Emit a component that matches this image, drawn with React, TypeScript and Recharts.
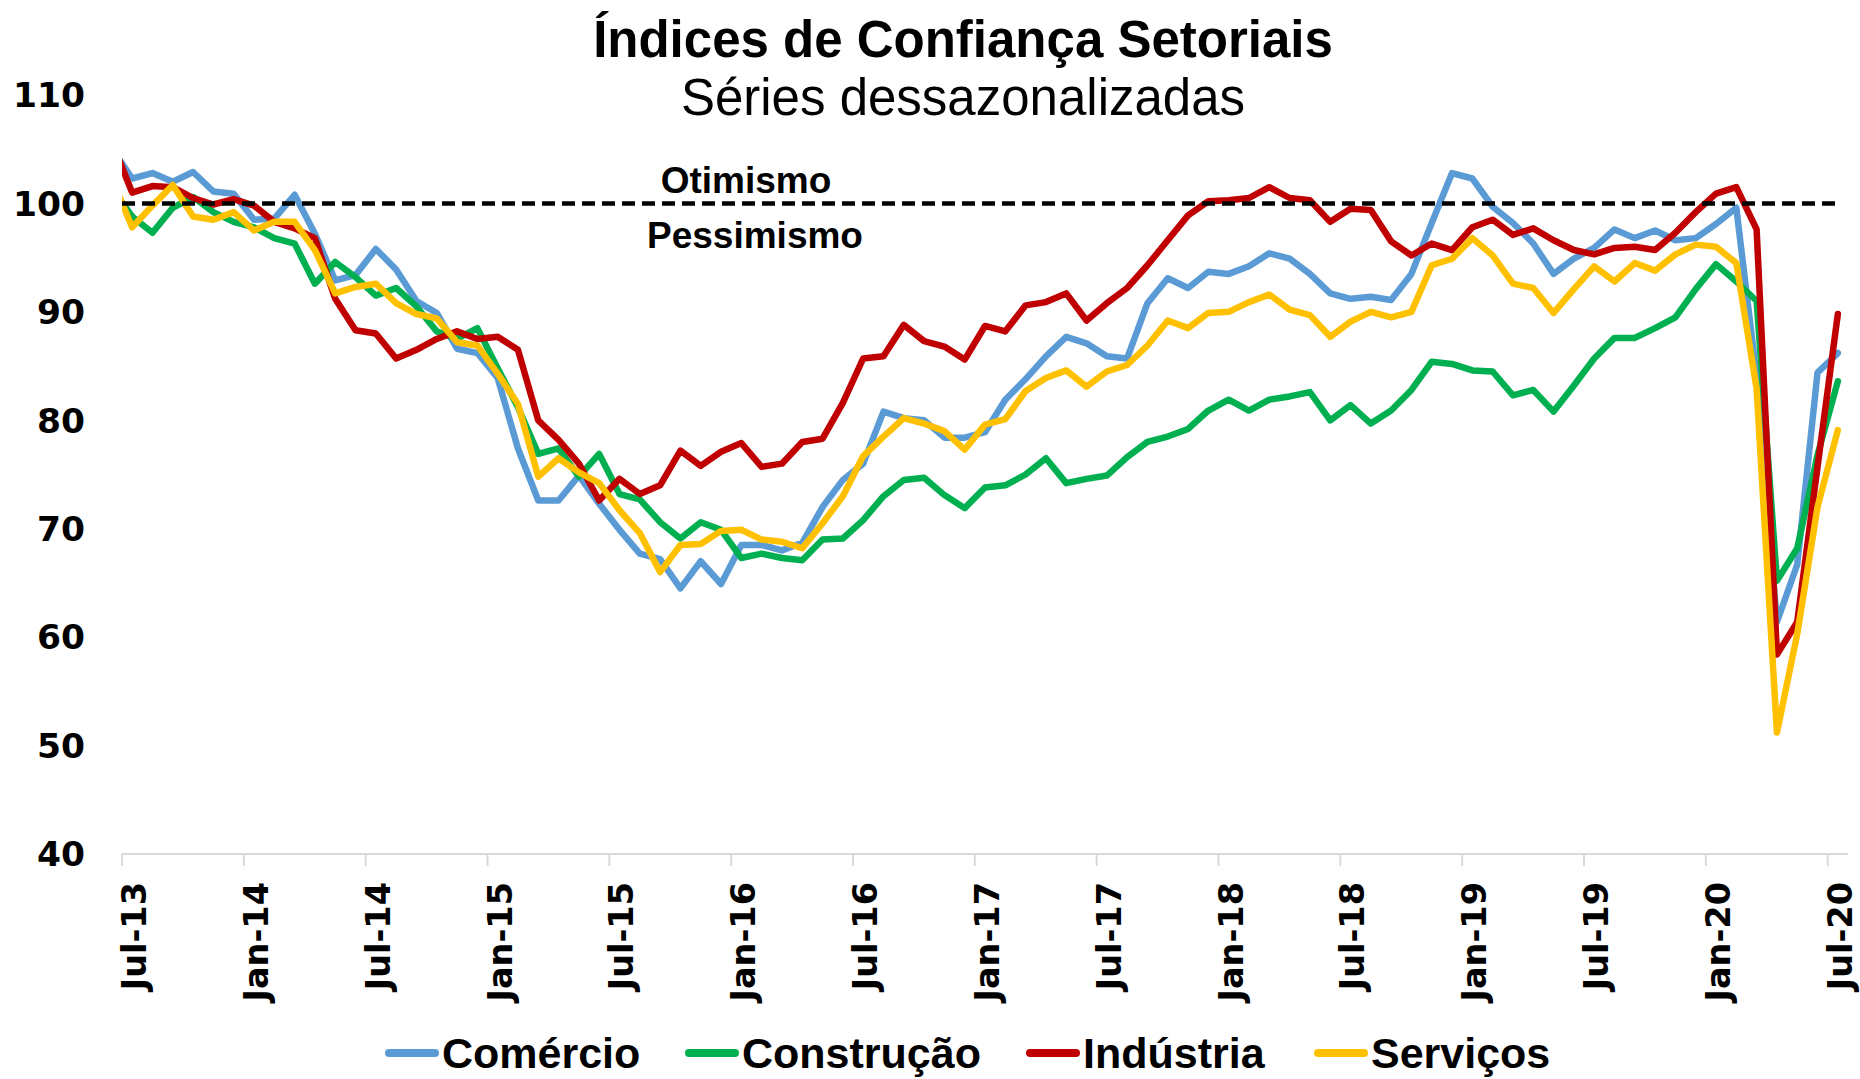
import React from "react";
import { LineChart, Line, XAxis, YAxis, ReferenceLine } from "recharts";

// Monthly observations (Jun-13 lies just left of the visible axis start and is clipped)
const months = [
  "Jun-13", "Jul-13", "Aug-13", "Sep-13", "Oct-13", "Nov-13", "Dec-13",
  "Jan-14", "Feb-14", "Mar-14", "Apr-14", "May-14", "Jun-14", "Jul-14", "Aug-14", "Sep-14", "Oct-14", "Nov-14", "Dec-14",
  "Jan-15", "Feb-15", "Mar-15", "Apr-15", "May-15", "Jun-15", "Jul-15", "Aug-15", "Sep-15", "Oct-15", "Nov-15", "Dec-15",
  "Jan-16", "Feb-16", "Mar-16", "Apr-16", "May-16", "Jun-16", "Jul-16", "Aug-16", "Sep-16", "Oct-16", "Nov-16", "Dec-16",
  "Jan-17", "Feb-17", "Mar-17", "Apr-17", "May-17", "Jun-17", "Jul-17", "Aug-17", "Sep-17", "Oct-17", "Nov-17", "Dec-17",
  "Jan-18", "Feb-18", "Mar-18", "Apr-18", "May-18", "Jun-18", "Jul-18", "Aug-18", "Sep-18", "Oct-18", "Nov-18", "Dec-18",
  "Jan-19", "Feb-19", "Mar-19", "Apr-19", "May-19", "Jun-19", "Jul-19", "Aug-19", "Sep-19", "Oct-19", "Nov-19", "Dec-19",
  "Jan-20", "Feb-20", "Mar-20", "Apr-20", "May-20", "Jun-20", "Jul-20",
];

const comercio = [
  105.1, 102.3, 102.8, 102.0, 102.9, 101.1, 100.9,
  98.5, 98.6, 100.8, 97.2, 92.9, 93.4, 95.8, 93.9, 91.0, 89.9, 86.6, 86.2,
  83.9, 77.4, 72.6, 72.6, 74.9, 72.3, 69.9, 67.7, 67.2, 64.5, 67.0, 64.9,
  68.5, 68.5, 68.0, 68.7, 72.0, 74.5, 76.0, 80.8, 80.2, 80.0, 78.4, 78.4,
  78.9, 81.9, 83.8, 85.9, 87.7, 87.1, 85.9, 85.7, 90.8, 93.1, 92.2, 93.7,
  93.5, 94.2, 95.4, 94.9, 93.5, 91.7, 91.2, 91.4, 91.1, 93.5, 98.2, 102.8,
  102.3, 99.7, 98.2, 96.3, 93.5, 94.9, 95.9, 97.6, 96.8, 97.5, 96.6, 96.8,
  98.1, 99.6, 84.0, 61.4, 66.7, 84.4, 86.2,
];

const construcao = [
  101.4, 98.8, 97.3, 99.6, 100.6, 99.2, 98.3,
  97.8, 96.8, 96.3, 92.6, 94.6, 93.2, 91.5, 92.2, 90.5, 88.2, 87.5, 88.5,
  84.8, 81.2, 76.9, 77.4, 74.8, 76.9, 73.2, 72.7, 70.6, 69.1, 70.6, 69.9,
  67.3, 67.7, 67.3, 67.1, 69.0, 69.1, 70.8, 73.0, 74.5, 74.7, 73.1, 71.9,
  73.8, 74.0, 75.0, 76.5, 74.2, 74.6, 74.9, 76.6, 78.0, 78.5, 79.2, 80.9,
  81.9, 80.9, 81.9, 82.2, 82.6, 80.0, 81.4, 79.7, 80.9, 82.8, 85.4, 85.2,
  84.6, 84.5, 82.3, 82.8, 80.8, 83.2, 85.7, 87.6, 87.6, 88.5, 89.5, 92.1,
  94.4, 92.8, 91.0, 65.2, 68.2, 76.8, 83.6,
];

const industria = [
  105.7, 101.0, 101.6, 101.5, 100.5, 99.9, 100.4,
  99.8, 98.3, 97.7, 96.8, 91.2, 88.3, 88.0, 85.7, 86.5, 87.5, 88.2, 87.5,
  87.7, 86.5, 80.0, 78.2, 76.0, 72.6, 74.6, 73.2, 74.0, 77.2, 75.8, 77.1,
  77.9, 75.7, 76.0, 78.0, 78.3, 81.6, 85.7, 85.9, 88.8, 87.3, 86.8, 85.6,
  88.7, 88.2, 90.6, 90.9, 91.7, 89.2, 90.8, 92.2, 94.3, 96.6, 98.9, 100.2,
  100.3, 100.5, 101.5, 100.5, 100.3, 98.3, 99.5, 99.4, 96.5, 95.2, 96.3, 95.7,
  97.8, 98.5, 97.1, 97.7, 96.6, 95.7, 95.3, 95.9, 96.0, 95.7, 97.3, 99.2,
  100.9, 101.5, 97.6, 58.4, 61.4, 75.7, 89.8,
];

const servicos = [
  102.3, 97.8, 99.8, 101.7, 98.8, 98.5, 99.2,
  97.5, 98.3, 98.3, 95.7, 91.7, 92.3, 92.6, 90.8, 89.8, 89.4, 87.2, 86.9,
  84.3, 81.5, 74.8, 76.5, 75.2, 74.2, 71.7, 69.6, 66.0, 68.5, 68.6, 69.8,
  69.9, 69.0, 68.8, 68.2, 70.5, 73.0, 76.7, 78.5, 80.2, 79.7, 79.0, 77.3,
  79.6, 80.1, 82.7, 83.9, 84.6, 83.1, 84.5, 85.1, 86.9, 89.2, 88.5, 89.9,
  90.0, 90.9, 91.6, 90.2, 89.7, 87.7, 89.1, 90.0, 89.5, 90.0, 94.3, 94.9,
  96.8, 95.2, 92.6, 92.2, 89.9, 92.1, 94.2, 92.8, 94.5, 93.8, 95.3, 96.2,
  96.0, 94.5, 82.9, 51.2, 60.3, 72.0, 79.1,
];

const neutralLevel = 100;
const yTicks = [40, 50, 60, 70, 80, 90, 100, 110];
const xTickLabels = ["Jul-13", "Jan-14", "Jul-14", "Jan-15", "Jul-15", "Jan-16", "Jul-16", "Jan-17", "Jul-17", "Jan-18", "Jul-18", "Jan-19", "Jul-19", "Jan-20", "Jul-20"];
const xTickPositions = xTickLabels.map((_, i) => i * 6); // months since Jul-13

const seriesInfo = [
  { key: "comercio", name: "Comércio", color: "#5B9BD5" },
  { key: "construcao", name: "Construção", color: "#00B050" },
  { key: "industria", name: "Indústria", color: "#C00000" },
  { key: "servicos", name: "Serviços", color: "#FFC000" },
];

// each observation sits mid-month on a monthly time axis (0 = start of Jul-13)
const table = months.map((m, i) => ({
  month: m,
  t: i - 0.5,
  comercio: comercio[i],
  construcao: construcao[i],
  industria: industria[i],
  servicos: servicos[i],
}));

const W = 1860;
const H = 1079;
const tickFont = "'DejaVu Sans', Verdana, sans-serif";
const textFont = "'Liberation Sans', Arial, Helvetica, sans-serif";

const XTick = (props: any) => {
  const { x, y, payload } = props;
  const idx = xTickPositions.indexOf(payload.value);
  const label = idx >= 0 ? xTickLabels[idx] : "";
  return (
    <g transform={`translate(${x + 12},${y})`}>
      <text
        transform="rotate(-90)"
        textAnchor="end"
        dy="0.36em"
        fontFamily={tickFont}
        fontWeight="bold"
        fontSize={33.5}
        fill="#000"
      >
        {label}
      </text>
    </g>
  );
};

const legendX = [385, 685, 1026, 1314];

export default function App() {
  return (
    <div style={{ position: "absolute", left: 0, top: 0, width: W, height: H, background: "#fff", overflow: "hidden" }}>
      <div style={{ position: "absolute", left: 0, top: 0 }}>
        <LineChart width={W} height={H} data={table} margin={{ top: 95, right: 12, bottom: 45, left: 0 }}>
          <XAxis
            type="number"
            dataKey="t"
            domain={[0, 85]}
            allowDataOverflow
            ticks={xTickPositions}
            interval={0}
            height={180}
            axisLine={{ stroke: "#d9d9d9", strokeWidth: 2 }}
            tickLine={{ stroke: "#d9d9d9", strokeWidth: 2 }}
            tickSize={12}
            tickMargin={16}
            tick={(p: any) => <XTick {...p} />}
          />
          <YAxis
            type="number"
            domain={[40, 110]}
            ticks={yTicks}
            interval={0}
            width={122}
            axisLine={false}
            tickLine={false}
            tickSize={0}
            tickMargin={37}
            tick={{ fontFamily: tickFont, fontWeight: "bold", fontSize: 34.5, fill: "#000" }}
          />
          {seriesInfo.map((s) => (
            <Line
              key={s.key}
              type="linear"
              dataKey={s.key}
              name={s.name}
              stroke={s.color}
              strokeWidth={6.5}
              strokeLinejoin="round"
              strokeLinecap="round"
              dot={false}
              activeDot={false}
              isAnimationActive={false}
            />
          ))}
          <ReferenceLine
            segment={[{ x: 0, y: neutralLevel }, { x: 84.5, y: neutralLevel }]}
            stroke="#000"
            strokeWidth={4.5}
            strokeDasharray="13 7"
          />
        </LineChart>
      </div>
      <svg width={W} height={H} style={{ position: "absolute", left: 0, top: 0, pointerEvents: "none" }}>
        <text x={963} y={57} textAnchor="middle" fontFamily={textFont} fontWeight="bold" fontSize={51} fill="#000">
          Índices de Confiança Setoriais
        </text>
        <text x={963} y={115} textAnchor="middle" fontFamily={textFont} fontSize={51} fill="#000">
          Séries dessazonalizadas
        </text>
        <text x={746} y={193} textAnchor="middle" fontFamily={textFont} fontWeight="bold" fontSize={37} fill="#000">
          Otimismo
        </text>
        <text x={755} y={248} textAnchor="middle" fontFamily={textFont} fontWeight="bold" fontSize={37} fill="#000">
          Pessimismo
        </text>
        {seriesInfo.map((s, i) => (
          <g key={s.key}>
            <line x1={legendX[i] + 4} y1={1053} x2={legendX[i] + 50} y2={1053} stroke={s.color} strokeWidth={8} strokeLinecap="round" />
            <text x={legendX[i] + 57} y={1068} fontFamily={textFont} fontWeight="bold" fontSize={43} fill="#000">
              {s.name}
            </text>
          </g>
        ))}
      </svg>
    </div>
  );
}
